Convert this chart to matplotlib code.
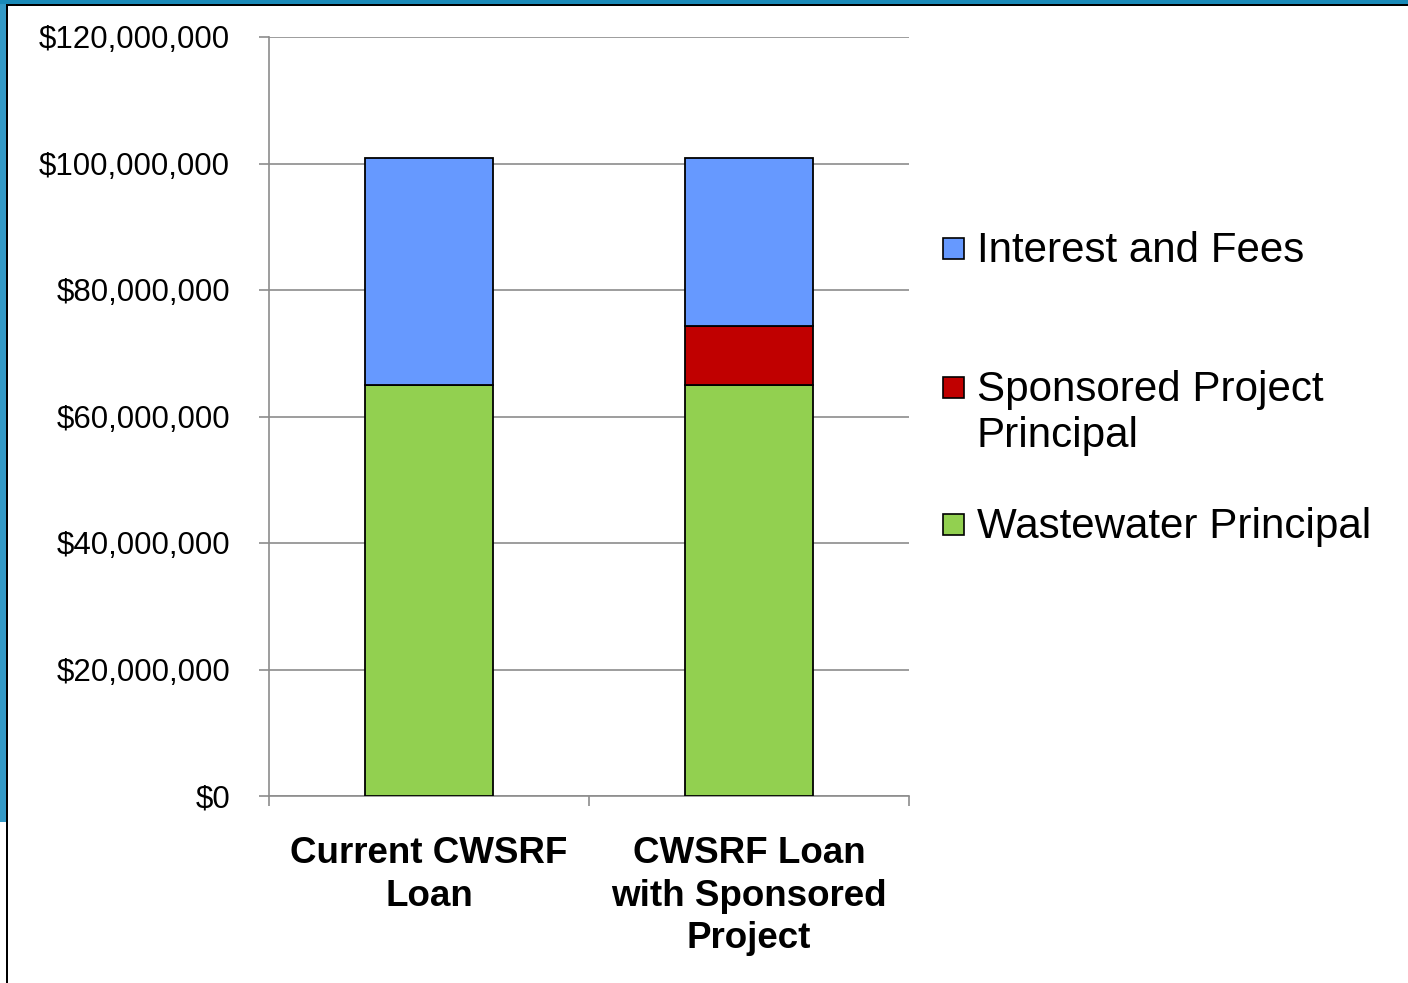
import numpy as np
import matplotlib
matplotlib.use("Agg")
import matplotlib.pyplot as plt
from matplotlib.patches import Rectangle
from matplotlib.ticker import FuncFormatter

# values in dollars
categories = ["Current CWSRF\nLoan", "CWSRF Loan\nwith Sponsored\nProject"]
wastewater = [65.0e6, 65.0e6]
sponsored = [0.0, 9.3e6]
interest = [35.8e6, 26.5e6]
series_names = ["Interest and Fees", "Sponsored Project\nPrincipal", "Wastewater Principal"]
colors = {"interest": "#6699FF", "sponsored": "#C00000", "wastewater": "#92D050"}

W, H = 1408, 983
plt.rcParams["font.family"] = ["Liberation Sans", "DejaVu Sans"]
fig = plt.figure(figsize=(W / 100, H / 100), dpi=100)
fig.patch.set_facecolor("white")

# slide frame: blue bands with a black rule (left and top)
fig.add_artist(Rectangle((0, 1 - 822 / H), 6 / W, 822 / H, transform=fig.transFigure,
                         color="#3399c6", lw=0))
fig.add_artist(Rectangle((0, 1 - 4 / H), 1, 4 / H, transform=fig.transFigure,
                         color="#1a8ab8", lw=0))
fig.add_artist(Rectangle((6 / W, 0), 2 / W, 1 - 4 / H, transform=fig.transFigure,
                         color="black", lw=0))
fig.add_artist(Rectangle((6 / W, 1 - 6 / H), 1, 2 / H, transform=fig.transFigure,
                         color="black", lw=0))

ax = fig.add_axes([269 / W, 1 - 796 / H, (909 - 269) / W, (796 - 37) / H])
x = np.arange(len(categories))
bw = 0.40
kw = dict(width=bw, edgecolor="black", linewidth=1.3, zorder=3)
ax.bar(x, wastewater, color=colors["wastewater"], **kw)
ax.bar(x[1:], sponsored[1:], bottom=wastewater[1:], color=colors["sponsored"], **kw)
ax.bar(x, interest, bottom=np.array(wastewater) + np.array(sponsored),
       color=colors["interest"], **kw)

ax.set_xlim(-0.5, 1.5)
ax.set_ylim(0, 120e6)
ax.set_yticks(np.arange(0, 120e6 + 1, 20e6))
ax.yaxis.set_major_formatter(FuncFormatter(lambda v, _: f"${v:,.0f}"))
ax.grid(axis="y", color="#8c8c8c", lw=1.2, zorder=0)
ax.set_axisbelow(True)
for s in ["top", "right"]:
    ax.spines[s].set_visible(False)
for s in ["left", "bottom"]:
    ax.spines[s].set_color("#8c8c8c")
    ax.spines[s].set_linewidth(1.2)

ax.tick_params(axis="y", length=7, width=1.2, color="#8c8c8c", pad=21, labelsize=22.5)
ax.set_xticks(x)
ax.set_xticklabels(categories, fontsize=26.5, fontweight="bold", linespacing=1.28)
ax.set_xticks([-0.5, 0.5, 1.5], minor=True)
ax.tick_params(axis="x", which="major", length=0, pad=29)
ax.tick_params(axis="x", which="minor", length=7, width=1.2, color="#8c8c8c")

# legend drawn entry by entry to match the spaced layout
legend_colors = [colors["interest"], colors["sponsored"], colors["wastewater"]]
legend_y = [248, 387, 524]
for name, c, yy in zip(series_names, legend_colors, legend_y):
    fig.add_artist(Rectangle((943 / W, 1 - (yy + 11) / H), 21 / W, 21 / H,
                             transform=fig.transFigure, facecolor=c,
                             edgecolor="black", lw=1.2))
    fig.text(977 / W, 1 - (yy - 17) / H, name, fontsize=30.3, va="top", ha="left",
             linespacing=1.2)

fig.savefig("out.png", dpi=100)
